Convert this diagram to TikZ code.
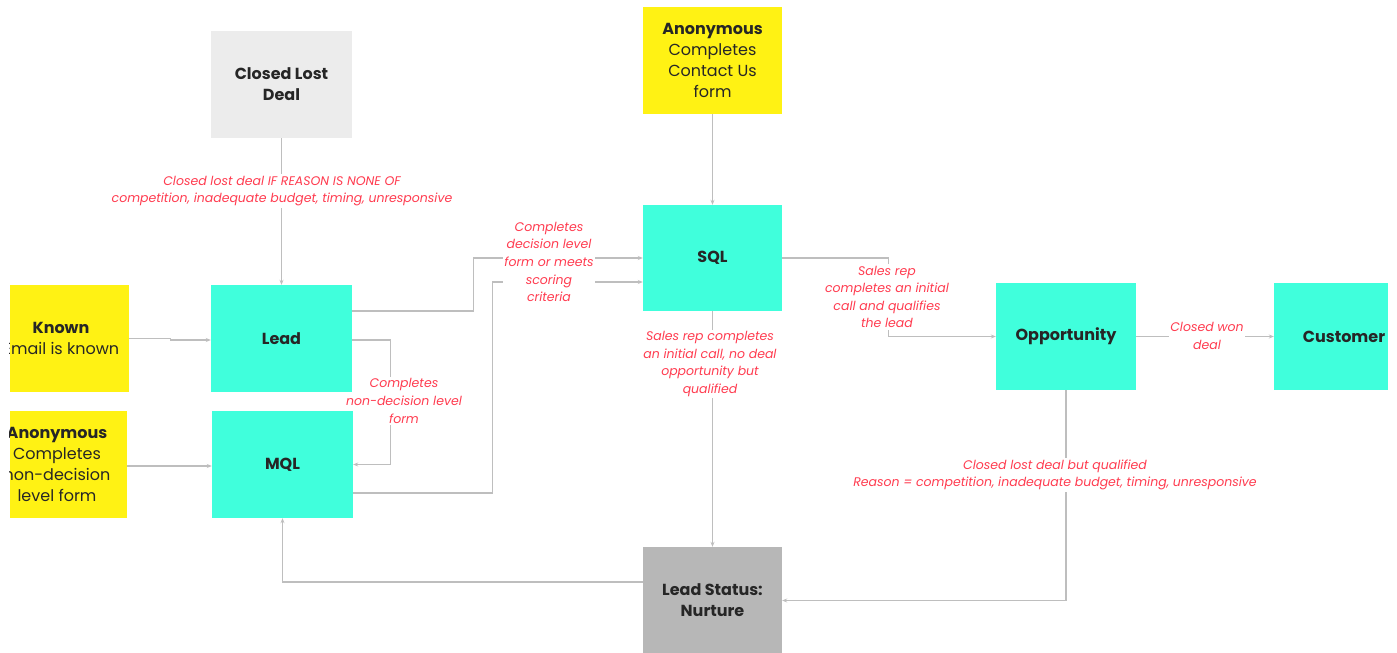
\documentclass[tikz,border=0pt]{standalone}
\usepackage{fontspec}
\setmainfont{Poppins}
\usetikzlibrary{arrows.meta}
\definecolor{turq}{RGB}{64,255,220}
\definecolor{yel}{RGB}{255,242,20}
\definecolor{lgray}{RGB}{236,236,236}
\definecolor{mgray}{RGB}{183,183,183}
\definecolor{labred}{RGB}{255,60,80}
\definecolor{connc}{RGB}{190,190,190}
\pgfdeclarelayer{fg}
\pgfsetlayers{main,fg}
\begin{document}
\begin{tikzpicture}[x=1pt,y=-1pt,
  box/.style={draw=none, inner sep=0pt, align=center, text=black!85, font=\fontsize{16}{21}\selectfont},
  stage/.style={box, fill=turq},
  src/.style={box, fill=yel},
  conn/.style={draw=connc, line width=1.2pt, -{Stealth[length=5pt,width=4pt]}},
  lbl/.style={fill=white, inner sep=1.5pt, align=center, text=labred, font=\fontsize{12.5}{17.6}\selectfont\itshape}
]
\useasboundingbox (0,0) rectangle (1397,653);
% boxes
\begin{pgfonlayer}{fg}
\node[box, fill=lgray, minimum width=141pt, minimum height=107pt] (closed) at (281.5,84.5) {\textbf{Closed Lost}\\\textbf{Deal}};
\node[src, minimum width=139pt, minimum height=107pt] (anon1) at (712.5,60.5) {\textbf{Anonymous}\\Completes\\Contact Us\\form};
\node[stage, minimum width=139pt, minimum height=106pt] (sql) at (712.5,258) {\textbf{SQL}};
\node[stage, minimum width=141pt, minimum height=107pt] (lead) at (281.5,338.5) {\textbf{Lead}};
\node[stage, minimum width=141pt, minimum height=107pt] (mql) at (282.5,464.5) {\textbf{MQL}};
\node[src, minimum width=119pt, minimum height=107pt] (known) at (69.5,338.5) {};
\node[src, minimum width=117pt, minimum height=107pt] (anon2) at (68.5,464.5) {};
\begin{scope}
  \clip (known.south west) rectangle (known.north east);
  \node[box] (knowntext) at (61,338) {\textbf{Known}\\Email is known};
\end{scope}
\begin{scope}
  \clip (anon2.south west) rectangle (anon2.north east);
  \node[box] (anon2text) at (57,464) {\textbf{Anonymous}\\Completes\\non-decision\\level form};
\end{scope}
\node[stage, minimum width=140pt, minimum height=107pt] (opp) at (1066,336.5) {\textbf{Opportunity}};
\node[stage, minimum width=114pt, minimum height=107pt] (customer) at (1331,336.5) {};
\node[box] (customertext) at (1344,336.5) {\textbf{Customer}};
\node[box, fill=mgray, minimum width=139pt, minimum height=107pt] (nurture) at (712.5,600.5) {\textbf{Lead Status:}\\\textbf{Nurture}};
\end{pgfonlayer}
% connectors
\draw[conn] (closed) -- (lead);
\draw[conn] (anon1) -- (sql);
\draw[conn] (known.east) -- ++(41,0) -- ++(0,1.5) -- ([yshift=-1.5pt]lead.west);
\draw[conn] ([yshift=-1.5pt]anon2.east) -- ([yshift=-1.5pt]mql.west);
\draw[conn] ([yshift=-1.5pt]lead.east) -- ++(38,0) |- (mql.east);
\draw[conn] ([yshift=27.5pt]lead.east) -- ++(121,0) |- (sql.west);
\draw[conn] ([yshift=-28.5pt]mql.east) -- ++(139,0) |- ([yshift=-24pt]sql.west);
\draw[conn] (sql.east) -- ++(106,0) |- (opp.west);
\draw[conn] (opp) -- (customer);
\draw[conn] (sql) -- (nurture);
\draw[conn] (opp.south) |- (nurture.east);
\draw[conn] ([yshift=18.5pt]nurture.west) -| (mql.south);
% labels
\node[lbl] (l1) at (282,191) {Closed lost deal IF REASON IS NONE OF\\competition, inadequate budget, timing, unresponsive};
\node[lbl] (l2) at (404,401) {Completes\\non-decision level\\form};
\node[lbl] (l3) at (549,262) {Completes\\decision level\\form or meets\\scoring\\criteria};
\node[lbl] (l4) at (887,297) {Sales rep\\completes an initial\\call and qualifies\\the lead};
\node[lbl] (l5) at (1207,336) {Closed won\\deal};
\node[lbl] (l6) at (710,364) {Sales rep completes\\an initial call, no deal\\opportunity but\\qualified};
\node[lbl] (l7) at (1055,475) {Closed lost deal but qualified\\Reason = competition, inadequate budget, timing, unresponsive};
\end{tikzpicture}
\end{document}
